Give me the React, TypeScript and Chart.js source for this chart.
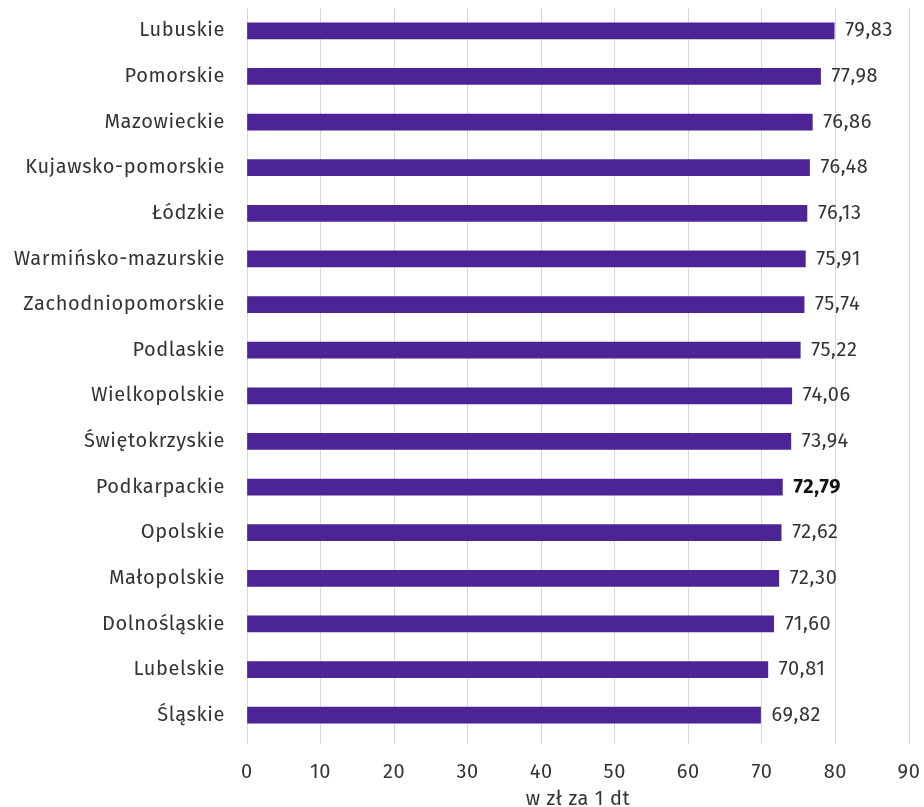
import React, { useEffect, useRef } from "react";
import { Chart, registerables } from "chart.js";

Chart.register(...registerables);

const categories = [
  "Lubuskie",
  "Pomorskie",
  "Mazowieckie",
  "Kujawsko-pomorskie",
  "Łódzkie",
  "Warmińsko-mazurskie",
  "Zachodniopomorskie",
  "Podlaskie",
  "Wielkopolskie",
  "Świętokrzyskie",
  "Podkarpackie",
  "Opolskie",
  "Małopolskie",
  "Dolnośląskie",
  "Lubelskie",
  "Śląskie",
];
const values = [79.83, 77.98, 76.86, 76.48, 76.13, 75.91, 75.74, 75.22, 74.06, 73.94, 72.79, 72.62, 72.3, 71.6, 70.81, 69.82];
const highlighted = ["Podkarpackie"];
const axisTitle = "w zł za 1 dt";
const FONT = "'Fira Sans', 'Open Sans', 'Noto Sans', sans-serif";
const FS = 20;

const spacingPlugin = {
  id: "letterSpacing",
  beforeDraw(chart: any) {
    chart.ctx.letterSpacing = "0.6px";
  },
};

const labelPlugin = {
  id: "valueLabels",
  afterDatasetsDraw(chart: any) {
    const ctx = chart.ctx;
    const meta = chart.getDatasetMeta(0);
    ctx.save();
    ctx.textBaseline = "middle";
    ctx.textAlign = "left";
    meta.data.forEach((bar: any, i: number) => {
      const bold = highlighted.includes(categories[i]);
      ctx.font = `${bold ? "bold " : ""}${FS}px ${FONT}`;
      ctx.fillStyle = bold ? "#111111" : "#333333";
      ctx.fillText(values[i].toFixed(2).replace(".", ","), bar.x + 11, bar.y);
    });
    ctx.restore();
  },
};

export default function App() {
  const ref = useRef<HTMLCanvasElement>(null);
  useEffect(() => {
    document.body.style.margin = "0";
    const chart = new Chart(ref.current!, {
      type: "bar",
      data: {
        labels: categories,
        datasets: [
          {
            data: values,
            backgroundColor: "#4d2496",
            barThickness: 16,
          },
        ],
      },
      options: {
        indexAxis: "y",
        animation: false,
        responsive: false,
        maintainAspectRatio: false,
        layout: { padding: { top: 8, right: 15, left: 0, bottom: 0 } },
        plugins: { legend: { display: false }, tooltip: { enabled: false } },
        scales: {
          x: {
            min: 0,
            max: 90,
            ticks: { stepSize: 10, color: "#333", font: { size: FS, family: FONT }, padding: 16 },
            grid: { color: "#d9d9d9", tickLength: 6 },
            border: { display: false },
            title: { display: true, text: axisTitle, color: "#333", font: { size: FS, family: FONT }, padding: { top: 0, bottom: -4 } },
            afterFit: (scale: any) => {
              scale.height = 69;
              scale.paddingLeft = 0;
              scale.paddingRight = 0;
            },
          },
          y: {
            ticks: { color: "#333", font: { size: FS, family: FONT }, padding: 22 },
            grid: { display: false, drawTicks: false, tickLength: 0 },
            border: { display: false },
            afterFit: (scale: any) => {
              scale.width = 247;
              scale.paddingTop = 0;
              scale.paddingBottom = 0;
            },
          },
        },
      },
      plugins: [spacingPlugin, labelPlugin],
    });
    return () => chart.destroy();
  }, []);
  return <canvas ref={ref} width={924} height={807} style={{ display: "block" }} />;
}
